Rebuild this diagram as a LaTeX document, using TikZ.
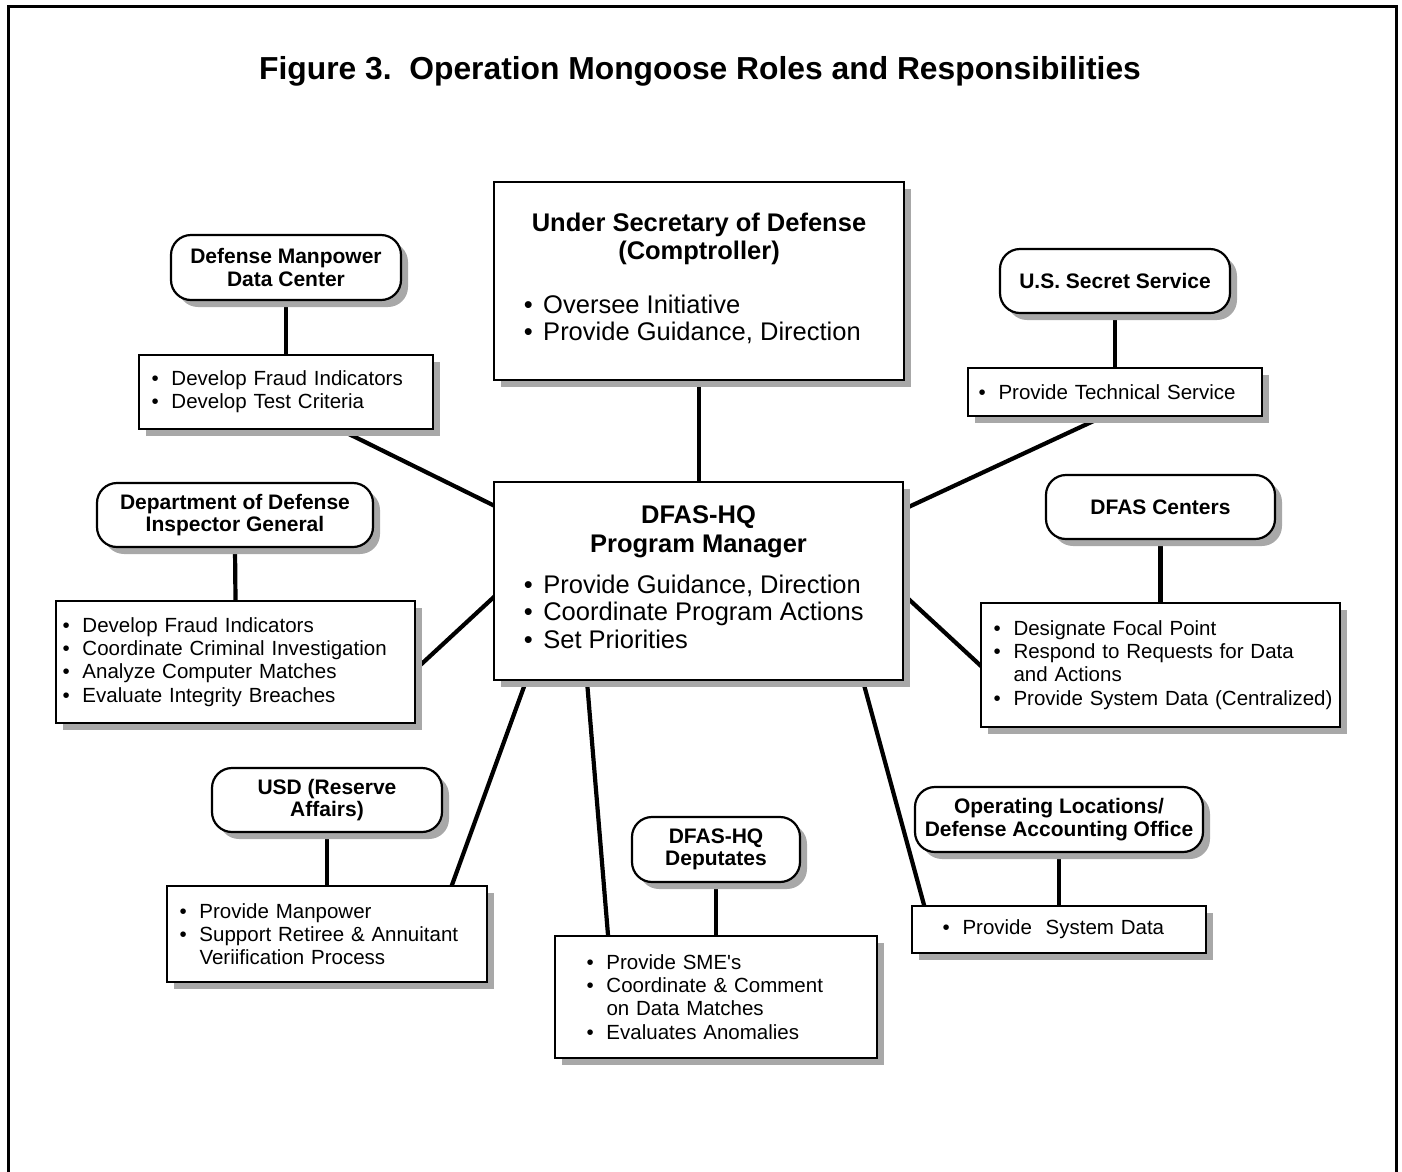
\documentclass[tikz,border=0pt]{standalone}
\usepackage{fontspec}
\setmainfont{Liberation Sans}
\usetikzlibrary{positioning,shadows}
\pgfdeclarelayer{back}
\pgfsetlayers{back,main}

%% bullet line and its continuation
\newcommand{\bitem}[2][20pt]{\mbox{\makebox[#1][l]{\textbullet}#2}}
\newcommand{\bcont}[2][20pt]{\mbox{\hspace*{#1}#2}}

\begin{document}
\begin{tikzpicture}[
  x=1pt, y=-1pt,
  shad/.style={
    drop shadow={shadow xshift=7pt, shadow yshift=-7pt, fill=black!34, opacity=1}
  },
  bigbox/.style={
    draw=black, fill=white, line width=2.4pt, shad,
    align=center, inner sep=0pt, font=\fontsize{25.5}{27.5}\selectfont
  },
  headbox/.style={
    draw=black, fill=white, rounded corners=20pt, line width=2.2pt, shad,
    align=center, inner sep=0pt, font=\fontsize{21}{22.5}\selectfont\bfseries
  },
  listbox/.style={
    draw=black, fill=white, line width=2.2pt, shad,
    align=left, inner ysep=0pt, font=\fontsize{20.5}{23.2}\selectfont
  },
  conn/.style={black, line width=4.2pt, shorten <=-4pt, shorten >=-4pt},
]
\useasboundingbox (0,0) rectangle (1402,1171);

%% Frame and title
\draw[line width=3pt] (8,1180) -- (8,6) -- (1396,6) -- (1396,1180);
\node[anchor=base, font=\fontsize{31.8}{34}\selectfont\bfseries] (title) at (700,79)
  {Figure 3.\ \ Operation Mongoose Roles and Responsibilities};

%% Central boxes
\node[bigbox, minimum width=410, minimum height=198] (usdc) at (699,281)
  {\textbf{Under Secretary of Defense}\\ \textbf{(Comptroller)}\\[26.5pt]
   \begin{tabular}[t]{@{}l@{}}\bitem[19.5pt]{Oversee Initiative}\\
   \bitem[19.5pt]{Provide Guidance, Direction}\end{tabular}\kern13.5pt};
\node[bigbox, minimum width=409, minimum height=198] (pm) at (698.5,581)
  {\textbf{DFAS-HQ}\\[1.5pt] \textbf{Program Manager}\\[13.5pt]
   \begin{tabular}[t]{@{}l@{}}\bitem[19.5pt]{Provide Guidance, Direction}\\
   \bitem[19.5pt]{Coordinate Program Actions}\\
   \bitem[19.5pt]{Set Priorities}\end{tabular}\kern9.5pt};

%% Left column
\node[headbox, minimum width=230, minimum height=65] (dmdc) at (286,267.5)
  {Defense Manpower\\Data Center};
\node[listbox, minimum height=74, text width=269, inner xsep=12.5] (dmdcl) at (286,392)
  {\bitem{Develop Fraud Indicators}\\ \bitem{Develop Test Criteria}};

\node[headbox, minimum width=276, minimum height=64] (dodig) at (235,515)
  {Department of Defense\\Inspector General};
\node[listbox, minimum height=122, text width=346, inner xsep=6.5] (dodigl) at (235.5,662)
  {\bitem{Develop Fraud Indicators}\\ \bitem{Coordinate Criminal Investigation}\\
   \bitem{Analyze Computer Matches}\\ \bitem{Evaluate Integrity Breaches}};

\node[headbox, minimum width=230, minimum height=64] (usdra) at (327,800)
  {USD (Reserve\\Affairs)};
\node[listbox, minimum height=96, text width=295, inner xsep=12.5] (usdral) at (327,934)
  {\bitem{Provide Manpower}\\ \bitem{Support Retiree \& Annuitant}\\
   \bcont{Veriification Process}};

%% Bottom middle
\node[headbox, minimum width=168, minimum height=65] (deps) at (716,849.5)
  {DFAS-HQ\\Deputates};
\node[listbox, minimum height=122, text width=259, inner xsep=31.5] (depsl) at (716,997)
  {\bitem{Provide SME\textquotesingle s}\\ \bitem{Coordinate \& Comment}\\
   \bcont{on Data Matches}\\ \bitem{Evaluates Anomalies}};

%% Right column
\node[headbox, minimum width=230, minimum height=64] (uss) at (1115,281)
  {U.S. Secret Service};
\node[listbox, minimum height=48, text width=273, inner xsep=10.5] (ussl) at (1115,392)
  {\bitem{Provide Technical Service}};

\node[headbox, minimum width=229, minimum height=64] (dfasc) at (1160.5,507)
  {DFAS Centers};
\node[listbox, minimum height=124, text width=334, inner xsep=12.5] (dfascl) at (1160.5,665)
  {\bitem{Designate Focal Point}\\ \bitem{Respond to Requests for Data}\\
   \bcont{and Actions}\\ \bitem{Provide System Data (Centralized)}};

\node[headbox, minimum width=288, minimum height=65] (opl) at (1059,819.5)
  {Operating Locations/\\Defense Accounting Office};
\node[listbox, minimum height=47, text width=233, inner xsep=30.5] (opll) at (1059,929.5)
  {\bitem{Provide\ \ System Data}};

%% Connectors (behind the boxes)
\begin{pgfonlayer}{back}
\draw[conn] (usdc.south) -- (usdc.south |- pm.north);
\draw[conn] (dmdc.south) -- (dmdcl.north);
\draw[conn] (dodig.south) -- (dodigl.north);
\draw[conn] (usdra.south) -- (usdral.north);
\draw[conn] (deps.south) -- (depsl.north);
\draw[conn] (uss.south) -- (ussl.north);
\draw[conn] (dfasc.south) -- (dfascl.north);
\draw[conn] (opl.south) -- (opll.north);

\draw[conn] ([xshift=55pt]dmdcl.south) -- ([yshift=76pt]pm.west);
\draw[conn] ([yshift=-7pt]dodigl.east) -- ([yshift=-17pt]pm.west);
\draw[conn] ([xshift=-13pt]ussl.south) -- ([yshift=72pt]pm.east);
\draw[conn] ([yshift=-14pt]pm.east) -- (dfascl.west);
\draw[conn] ([xshift=-172.5pt]pm.south) -- ([xshift=125pt]usdral.north);
\draw[conn] ([xshift=-111.5pt]pm.south) -- ([xshift=-108pt]depsl.north);
\draw[conn] ([xshift=164.5pt]pm.south) -- ([xshift=-135pt]opll.north);
\end{pgfonlayer}

\end{tikzpicture}
\end{document}
